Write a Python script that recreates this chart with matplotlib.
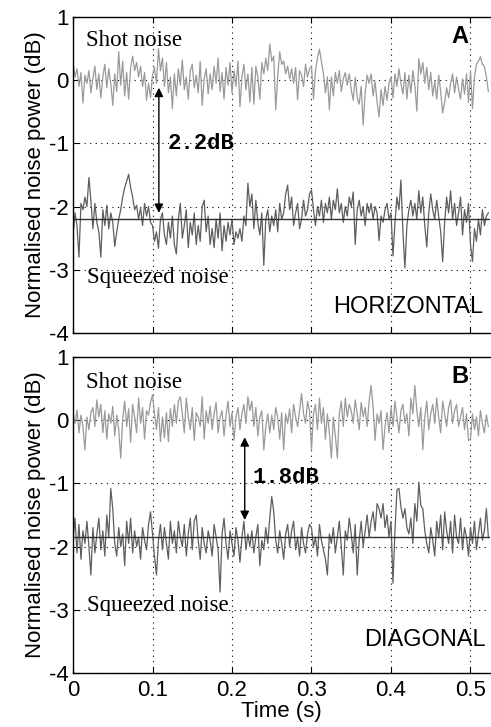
import numpy as np
import matplotlib.pyplot as plt

plt.rcParams['axes.unicode_minus'] = False
plt.rcParams['font.family'] = ['Liberation Sans', 'DejaVu Sans']

# Sampling step of the recorded traces (s)
dt = 0.0025

# Panel A (horizontal): shot noise and squeezed noise in dB
shot_h = [
    0.30, 0.05, 0.18, -0.10, 0.12, -0.36, 0.08, -0.05, 0.15, -0.20,
    0.02, 0.22, -0.15, 0.10, -0.28, 0.05, 0.25, -0.12, 0.18, -0.05,
    -0.40, 0.10, -0.18, 0.45, -0.08, 0.30, -0.25, 0.12, -0.30, 0.20,
    0.38, 0.15, 0.28, 0.05, 0.22, -0.10, 0.12, -0.32, -0.05, -0.28,
    0.08, 0.20, -0.05, 0.50, 0.15, 0.35, -0.10, 0.28, -0.20, 0.05,
    -0.45, 0.10, -0.25, 0.18, -0.08, 0.32, -0.15, 0.05, -0.30, 0.15,
    0.25, -0.12, 0.08, -0.20, 0.30, -0.40, 0.02, 0.18, -0.22, 0.10,
    -0.15, 0.22, -0.05, 0.35, -0.18, 0.12, -0.30, 0.20, -0.08, 0.28,
    -0.20, 0.15, -0.10, 0.30, -0.42, 0.05, 0.25, -0.15, 0.10, -0.35,
    0.20, -0.38, 0.22, 0.05, -0.30, 0.28, 0.10, 0.35, 0.15, 0.57,
    0.30, 0.38, -0.47, 0.05, 0.45, 0.25, 0.30, 0.10, 0.22, 0.02,
    0.18, -0.05, 0.20, -0.31, 0.15, 0.08, -0.10, 0.25, 0.05, 0.18,
    0.22, -0.30, 0.15, 0.35, 0.49, 0.30, 0.10, -0.20, 0.05, -0.47,
    0.05, -0.25, 0.12, -0.05, 0.15, -0.18, 0.02, 0.12, -0.08, 0.10,
    -0.15, -0.32, 0.05, -0.28, -0.38, -0.10, -0.71, -0.20, 0.08, -0.05,
    0.10, -0.25, -0.02, -0.35, -0.58, -0.15, -0.40, -0.10, -0.32, -0.05,
    0.05, -0.28, 0.10, -0.10, 0.18, -0.05, -0.22, 0.12, -0.30, 0.08,
    -0.20, 0.15, -0.08, -0.49, 0.34, 0.10, 0.28, -0.05, 0.20, -0.15,
    0.12, -0.25, -0.02, -0.30, 0.08, -0.18, -0.52, -0.35, -0.12, -0.28,
    -0.05, 0.10, -0.20, 0.05, -0.15, -0.30, 0.02, -0.22, 0.10, -0.35,
    0.15, -0.45, 0.05, 0.25, 0.30, 0.37, 0.25, 0.22, 0.05, -0.18,
]
sqz_h = [
    -2.45, -2.10, -2.30, -2.80, -1.95, -2.05, -1.85, -2.00, -1.54, -1.90,
    -2.35, -1.95, -2.25, -2.40, -2.80, -2.05, -2.30, -1.98, -2.35, -2.10,
    -2.25, -2.63, -2.40, -2.20, -2.05, -1.85, -1.70, -1.60, -1.49, -1.70,
    -1.85, -2.05, -1.98, -2.20, -2.02, -2.30, -1.95, -2.15, -2.00, -2.25,
    -2.30, -2.55, -2.40, -2.66, -2.20, -2.10, -2.45, -2.60, -2.25, -2.50,
    -2.15, -2.60, -2.75, -2.20, -1.95, -2.50, -2.30, -2.05, -2.65, -2.25,
    -2.45, -2.10, -2.60, -2.30, -2.55, -2.00, -1.90, -2.40, -2.15, -2.60,
    -2.35, -2.65, -2.20, -2.50, -2.10, -2.70, -2.30, -2.55, -2.25, -2.45,
    -2.20, -2.60, -2.40, -2.50, -2.35, -2.55, -2.15, -2.30, -1.63, -2.00,
    -1.80, -2.35, -1.90, -2.25, -2.45, -2.10, -2.93, -2.20, -2.05, -2.40,
    -2.15, -2.30, -2.05, -2.40, -1.95, -2.20, -2.10, -1.80, -1.66, -2.05,
    -1.85, -2.30, -2.10, -1.95, -2.35, -2.20, -1.90, -2.15, -2.05, -1.80,
    -1.74, -2.05, -2.30, -2.00, -2.15, -1.90, -2.25, -1.95, -2.10, -1.85,
    -2.20, -1.90, -2.05, -1.72, -2.10, -1.95, -2.25, -2.00, -2.15, -1.85,
    -2.00, -1.77, -2.60, -2.05, -1.90, -2.15, -2.00, -2.30, -1.95, -2.10,
    -1.95, -2.20, -2.00, -2.10, -2.54, -2.15, -2.25, -2.05, -1.95, -2.20,
    -2.10, -2.78, -2.25, -1.85, -2.05, -1.58, -2.40, -2.97, -2.30, -2.05,
    -1.90, -2.15, -1.95, -2.20, -1.75, -2.10, -1.85, -2.30, -2.64, -2.10,
    -1.80, -2.05, -2.20, -1.90, -2.15, -2.40, -2.87, -2.25, -1.85, -2.10,
    -1.75, -2.20, -1.95, -2.30, -2.10, -1.85, -2.45, -2.05, -2.25, -1.95,
    -2.60, -2.87, -2.35, -2.55, -2.20, -2.45, -2.05, -2.30, -2.15, -2.10,
]

# Panel B (diagonal)
shot_d = [
    0.10, -0.05, 0.16, -0.20, 0.08, -0.10, -0.47, 0.05, -0.15, 0.12,
    0.20, -0.10, 0.32, 0.05, 0.25, -0.20, 0.15, -0.30, 0.10, -0.05,
    0.22, -0.25, 0.08, -0.15, -0.60, 0.02, 0.30, -0.10, 0.18, -0.35,
    0.25, 0.05, -0.20, 0.35, -0.05, 0.20, -0.30, 0.15, 0.08, 0.28,
    0.40, 0.10, -0.15, 0.20, -0.34, 0.05, -0.28, 0.12, -0.34, 0.18,
    -0.10, 0.25, -0.05, 0.30, 0.37, 0.10, -0.20, 0.35, 0.05, -0.15,
    0.20, -0.32, 0.12, 0.05, -0.10, 0.37, -0.30, 0.15, -0.05, 0.22,
    -0.15, 0.10, 0.28, -0.20, 0.05, 0.15, -0.25, 0.08, 0.30, -0.10,
    0.12, -0.32, 0.05, 0.20, -0.15, 0.10, 0.25, -0.05, 0.37, 0.15,
    0.30, -0.10, 0.20, -0.25, 0.05, 0.15, -0.47, -0.10, 0.10, -0.20,
    0.08, -0.15, 0.20, 0.05, -0.30, 0.12, -0.47, 0.10, -0.05, 0.18,
    -0.20, 0.25, 0.05, -0.10, 0.15, 0.42, 0.10, -0.05, 0.30, 0.15,
    -0.47, 0.10, 0.25, -0.15, 0.35, -0.05, 0.20, -0.30, 0.10, -0.20,
    -0.60, 0.05, -0.25, -0.60, 0.10, 0.30, -0.10, 0.35, 0.05, 0.25,
    0.15, -0.05, 0.32, 0.10, -0.15, 0.28, 0.05, 0.20, -0.10, 0.30,
    0.55, 0.20, -0.32, 0.10, -0.05, 0.15, -0.47, -0.10, 0.12, -0.20,
    0.20, -0.10, 0.30, 0.05, -0.20, 0.15, 0.25, -0.05, 0.10, -0.25,
    0.35, 0.10, 0.55, 0.15, -0.10, 0.20, -0.47, 0.05, 0.30, -0.15,
    0.10, 0.25, -0.05, 0.35, 0.05, -0.20, 0.30, 0.10, -0.10, 0.20,
    0.32, -0.05, 0.15, 0.25, -0.10, 0.05, 0.20, -0.15, 0.10, -0.32,
    -0.30, 0.10, -0.15, 0.05, -0.25, 0.15, -0.05, -0.20, 0.08, -0.10,
]
sqz_d = [
    -1.90, -1.55, -2.10, -1.65, -2.20, -1.75, -1.95, -1.60, -2.00, -2.45,
    -1.70, -2.10, -1.80, -1.55, -2.05, -1.75, -2.15, -1.50, -1.85, -1.08,
    -1.40, -1.95, -2.15, -1.70, -2.00, -1.80, -2.30, -1.60, -1.95, -1.55,
    -2.10, -1.75, -2.00, -1.85, -2.20, -1.70, -1.90, -2.05, -1.65, -1.45,
    -1.80, -2.15, -2.45, -1.90, -1.65, -2.05, -1.70, -1.95, -2.20, -1.60,
    -1.95, -1.75, -2.10, -1.60, -1.85, -2.00, -1.65, -2.15, -1.80, -1.55,
    -2.05, -1.60, -1.50, -1.90, -2.20, -1.70, -1.95, -2.10, -1.75, -1.90,
    -2.15, -1.65, -1.85, -2.05, -2.72, -1.80, -1.55, -1.95, -2.20, -1.75,
    -1.95, -2.15, -1.70, -1.90, -2.25, -1.85, -1.60, -2.05, -1.80, -2.00,
    -1.75, -2.10, -1.85, -1.65, -2.30, -1.90, -2.05, -1.70, -1.95, -1.55,
    -1.21, -1.45, -1.90, -2.10, -1.75, -1.95, -2.20, -1.80, -1.65, -2.00,
    -1.75, -1.60, -2.05, -1.85, -2.15, -1.70, -1.95, -2.10, -1.80, -1.65,
    -1.70, -2.00, -1.85, -2.15, -1.65, -1.90, -2.05, -2.20, -2.45, -1.80,
    -1.95, -1.70, -2.10, -1.85, -1.60, -2.00, -2.45, -1.75, -1.90, -1.55,
    -1.80, -2.10, -1.65, -2.45, -1.90, -1.60, -2.00, -1.75, -1.50, -1.85,
    -1.60, -1.45, -1.75, -1.32, -1.40, -1.55, -1.32, -1.70, -1.50, -1.85,
    -1.60, -2.58, -1.75, -1.10, -1.08, -1.37, -1.55, -1.40, -1.70, -1.80,
    -1.55, -1.95, -1.32, -1.60, -0.98, -1.35, -1.40, -1.75, -1.95, -2.10,
    -1.70, -1.90, -2.15, -1.60, -1.85, -1.50, -2.05, -1.45, -1.75, -1.95,
    -1.60, -2.10, -1.50, -1.85, -1.95, -1.55, -2.05, -1.70, -1.85, -2.15,
    -1.70, -1.95, -1.60, -2.05, -1.80, -1.55, -1.90, -1.75, -1.40, -1.85,
]

# mean squeezed level and squeezing figure for each panel
sqz_level = [-2.2, -1.85]
squeezing = [2.2, 1.8]
arrow_x = [0.108, 0.216]
names = ['HORIZONTAL', 'DIAGONAL']
letters = ['A', 'B']

t = np.arange(len(shot_h)) * dt

fig = plt.figure(figsize=(4.91, 7.27), dpi=100)
ax_a = fig.add_axes([0.1487, 0.542, 0.850, 0.4347])
ax_b = fig.add_axes([0.1487, 0.0743, 0.850, 0.4347])

panels = [(ax_a, shot_h, sqz_h), (ax_b, shot_d, sqz_d)]
for i, (ax, shot, sqz) in enumerate(panels):
    ax.plot(t, shot, color='#9a9a9a', lw=0.9)
    ax.plot(t, sqz, color='#5e5e5e', lw=0.9)
    ax.axhline(sqz_level[i], color='#303030', lw=1.0)

    ax.set_xlim(0, 0.525)
    ax.set_ylim(-4, 1)
    ax.set_xticks([0, 0.1, 0.2, 0.3, 0.4, 0.5])
    ax.set_yticks([-4, -3, -2, -1, 0, 1])
    ax.set_yticklabels(['-4', '-3', '-2', '-1', '0', '1'])
    ax.grid(True, color='black', linestyle=(0, (1, 4)), lw=0.8)
    ax.tick_params(direction='in', labelsize=16, length=4, width=0.8,
                   top=True, right=False)
    ax.tick_params(axis='x', pad=5)
    ax.tick_params(axis='y', pad=3)
    ax.spines['right'].set_visible(False)
    for s in ['top', 'left', 'bottom']:
        ax.spines[s].set_linewidth(1.0)

    # arrow spanning shot noise to squeezed level
    top = -0.12 if i == 0 else -0.27
    bot = sqz_level[i] + (0.1 if i == 0 else 0.27)
    ax.annotate('', xy=(arrow_x[i], bot), xytext=(arrow_x[i], top),
                arrowprops=dict(arrowstyle='<|-|>', color='black', lw=1.0,
                                mutation_scale=13, shrinkA=0, shrinkB=0))
    ax.text(0.119 if i == 0 else 0.226, -1.0 if i == 0 else -0.9,
            '%.1fdB' % squeezing[i], family='Liberation Mono',
            weight='bold', fontsize=16, va='center', ha='left')

    ax.text(0.016, 0.63 if i == 0 else 0.59, 'Shot noise',
            family='Liberation Serif', fontsize=16.5, va='center')
    ax.text(0.017, -3.13 if i == 0 else -2.93, 'Squeezed noise',
            family='Liberation Serif', fontsize=16.5, va='center')
    ax.text(0.487, 0.69, letters[i], fontsize=17, weight='bold',
            ha='center', va='center')
    ax.text(0.516 if i == 0 else 0.519, -3.59 if i == 0 else -3.48,
            names[i], fontsize=17, ha='right', va='center')
    ax.set_ylabel('Normalised noise power (dB)', fontsize=16, labelpad=2)

ax_a.tick_params(labelbottom=False)
ax_b.set_xticklabels(['0', '0.1', '0.2', '0.3', '0.4', '0.5'])
ax_b.set_xlabel('Time (s)', fontsize=16, labelpad=0)

fig.savefig('out.png', dpi=100)
